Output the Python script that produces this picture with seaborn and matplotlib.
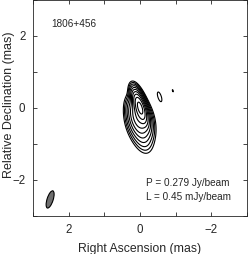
import numpy as np
import matplotlib
matplotlib.use("Agg")
import matplotlib.pyplot as plt
from matplotlib.patches import Ellipse
import seaborn as sns

# --- data: model components (mas, mJy) ---
comp_x = [0.00, 0.04, 0.02, -0.01, -0.04, -0.07, -0.10, -0.12, -0.55, -0.92]
comp_y = [0.02, -0.15, -0.30, -0.45, -0.60, -0.75, -0.90, -1.00, 0.31, 0.48]
comp_flux = [279.0, 40.0, 20.0, 9.0, 4.0, 1.7, 0.8, 0.35, 0.56, 0.455]
comp_size = [0.00, 0.10, 0.12, 0.13, 0.13, 0.13, 0.12, 0.10, 0.00, 0.00]

beam_major = 0.50
beam_minor = 0.17
beam_pa = 18.0  # deg, north through east
beam_center = (2.52, -2.54)

peak_label = "P = 0.279 Jy/beam"
lowest_label = "L = 0.45 mJy/beam"
source_name = "1806+456"
lowest_level = 0.45
level_factors = [1, 2, 4, 8, 16, 32, 64, 128, 256, 512]

sns.set_style("ticks")
plt.rcParams['font.family'] = ['Liberation Sans', 'DejaVu Sans']

# grid
xs = np.linspace(3, -3, 601)
ys = np.linspace(-3, 3, 601)
X, Y = np.meshgrid(xs, ys)

pa = np.deg2rad(beam_pa)
ux, uy = np.sin(pa), np.cos(pa)
vx, vy = np.cos(pa), -np.sin(pa)
sb_maj = beam_major / 2.3548
sb_min = beam_minor / 2.3548

Z = np.zeros_like(X)
for cx, cy, f, s in zip(comp_x, comp_y, comp_flux, comp_size):
    dx, dy = X - cx, Y - cy
    a = dx * ux + dy * uy
    b = dx * vx + dy * vy
    sbb = np.sqrt(sb_min**2 + s**2)
    Z += f * np.exp(-0.5 * (a**2 / sb_maj**2 + b**2 / sbb**2))

fig = plt.figure(figsize=(2.49, 2.54), dpi=100)
ax = fig.add_axes([33/249, 38/254, 214/249, 216/254])
levels = [lowest_level * k for k in level_factors]
ax.contour(X, Y, Z, levels=levels, colors="black", linewidths=0.8)

ax.add_patch(Ellipse(beam_center, width=beam_minor, height=beam_major,
                     angle=beam_pa, facecolor="#6e6e6e", edgecolor="black", lw=0.8))

ax.set_xlim(3, -3)
ax.set_ylim(-3, 3)
ax.set_aspect("auto")
ax.set_xticks([2, 0, -2])
ax.set_yticks([-2, 0, 2])
ax.set_xticks([3, 1, -1, -3], minor=True)
ax.set_yticks([-3, -1, 1, 3], minor=True)
ax.tick_params(which="both", direction="in", top=True, right=True,
               length=3, width=0.6, labelsize=8.3, pad=5.5)
for s in ax.spines.values():
    s.set_linewidth(0.6)

ax.set_xlabel("Right Ascension (mas)", fontsize=8.8, labelpad=5.5)
ax.set_ylabel("Relative Declination (mas)", fontsize=9)
ax.yaxis.set_label_coords(-0.084, 0.515)

ax.text(2.5, 2.33, source_name, fontsize=7.2, va="center", ha="left")
ax.text(-0.17, -2.08, peak_label, fontsize=7.2, va="center", ha="left")
ax.text(-0.17, -2.47, lowest_label, fontsize=7.2, va="center", ha="left")

fig.savefig("out.png", dpi=100)
